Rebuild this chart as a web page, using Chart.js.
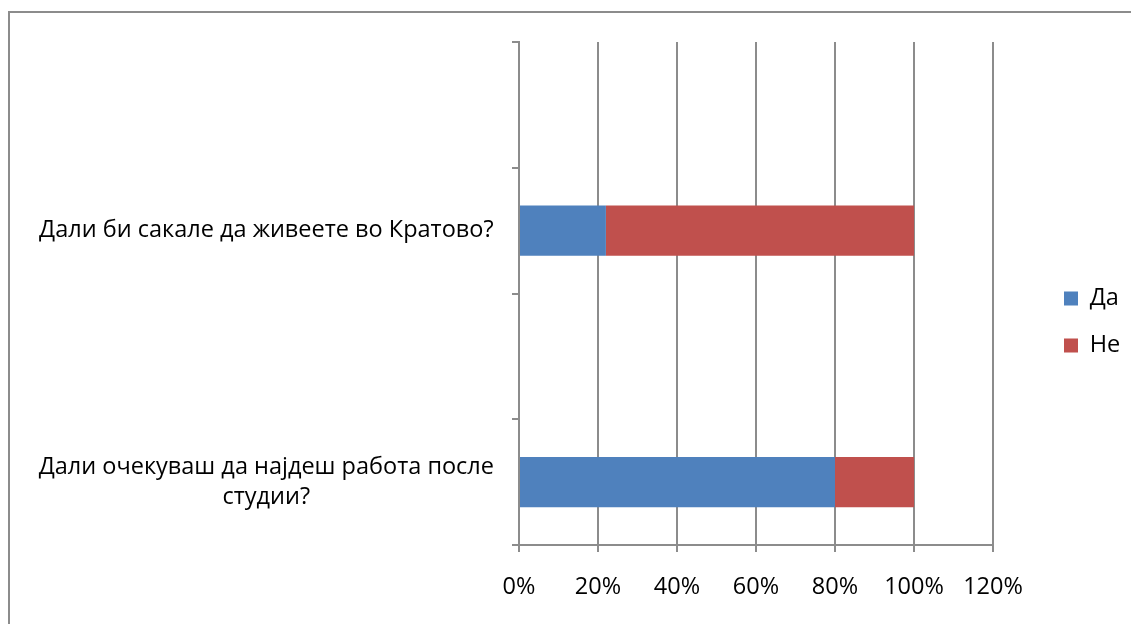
<!DOCTYPE html>
<html>
<head>
<meta charset="utf-8">
<script src="https://cdn.jsdelivr.net/npm/chart.js@4.4.1/dist/chart.umd.min.js"></script>
<style>
  html, body { margin: 0; padding: 0; background: #fff; }
  #frame {
    position: absolute; left: 8px; top: 11px; width: 1200px; height: 700px;
    border-left: 2px solid #8c8c8c; border-top: 2px solid #8c8c8c;
  }
  #wrap { position: absolute; left: 0; top: 0; width: 1131px; height: 624px; }
</style>
</head>
<body>
<div id="frame"></div>
<div id="wrap"><canvas id="surveyChart"></canvas></div>
<script>
// categories top to bottom (the blank rows are empty slots in the original sheet)
const categories = [
  '',
  'Дали би сакале да живеете во Кратово?',
  '',
  ['Дали очекуваш да најдеш работа после', 'студии?']
];
const yesValues = [null, 0.22, null, 0.80];   // Да
const noValues  = [null, 0.78, null, 0.20];   // Не
const xTicks = [0, 0.2, 0.4, 0.6, 0.8, 1.0, 1.2];
const xTickLabels = ['0%', '20%', '40%', '60%', '80%', '100%', '120%'];

const FONT = '"Open Sans", "Noto Sans", sans-serif';
const FONT_SIZE = 23.5;
const GRID = '#8c8c8c';
const LEGEND_BOX_X = 1064;

// legend sits a bit away from the plot in the original, move it over after layout
const legendNudge = {
  id: 'legendNudge',
  afterLayout(chart) {
    const lg = chart.legend;
    const shift = LEGEND_BOX_X - (lg.left + lg.options.labels.padding);
    lg.left += shift;
    lg.right += shift;
  }
};

const ctx = document.getElementById('surveyChart').getContext('2d');
const chart = new Chart(ctx, {
  type: 'bar',
  data: {
    labels: categories,
    datasets: [
      {
        label: 'Да',
        data: yesValues,
        backgroundColor: '#4f81bd',
        barPercentage: 0.4,
        categoryPercentage: 1.0
      },
      {
        label: 'Не',
        data: noValues,
        backgroundColor: '#c0504d',
        barPercentage: 0.4,
        categoryPercentage: 1.0
      }
    ]
  },
  plugins: [legendNudge],
  options: {
    indexAxis: 'y',
    responsive: true,
    maintainAspectRatio: false,
    animation: false,
    layout: { padding: { top: 42, left: 0, right: 0, bottom: 22 } },
    plugins: {
      tooltip: { enabled: false },
      legend: {
        position: 'right',
        labels: {
          boxWidth: 14,
          boxHeight: 14,
          padding: 23.5,
          color: '#000',
          font: { family: FONT, size: FONT_SIZE }
        }
      }
    },
    scales: {
      x: {
        stacked: true,
        min: 0,
        max: 1.2,
        afterBuildTicks: (scale) => { scale.ticks = xTicks.map(v => ({ value: v })); },
        afterFit: (scale) => {
          scale.height = 57;
          scale.paddingRight = 138;   // keeps plot right edge at the 120% line
        },
        ticks: {
          color: '#000',
          padding: 21,
          font: { family: FONT, size: FONT_SIZE },
          callback: (value, i) => xTickLabels[i]
        },
        grid: { color: GRID, lineWidth: 2, tickLength: 7, drawTicks: true },
        border: { color: GRID, width: 2 }
      },
      y: {
        stacked: true,
        afterFit: (scale) => {
          scale.width = 519;
          scale.paddingTop = 0;
          scale.paddingBottom = 0;
        },
        ticks: {
          color: '#000',
          padding: 18,
          crossAlign: 'center',
          autoSkip: false,
          font: { family: FONT, size: FONT_SIZE, lineHeight: 1.28 }
        },
        grid: { offset: true, drawOnChartArea: false, color: GRID, lineWidth: 2, tickLength: 7 },
        border: { color: GRID, width: 2 }
      }
    }
  }
});
</script>
</body>
</html>
